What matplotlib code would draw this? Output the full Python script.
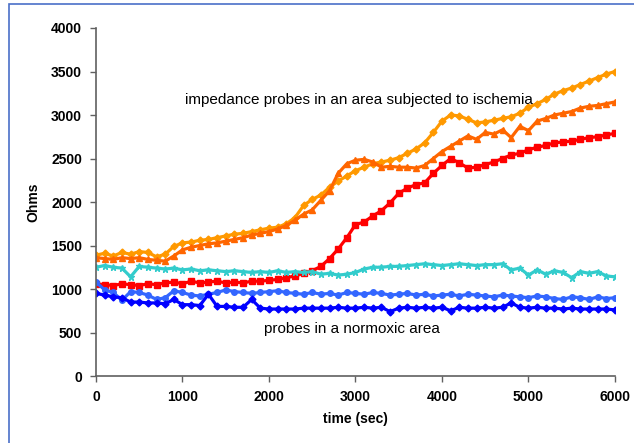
import matplotlib
matplotlib.use("Agg")
import matplotlib.pyplot as plt
from matplotlib.patches import Rectangle
import numpy as np

plt.rcParams['font.family'] = ['Liberation Sans', 'DejaVu Sans']

# time axis, one reading every 100 s
time_sec = list(range(0, 6001, 100))

# ischemic area probes
probe_orange = [1390, 1410, 1380, 1420, 1400, 1430, 1420, 1370, 1400, 1490,
                1530, 1540, 1560, 1570, 1590, 1610, 1630, 1640, 1660, 1680,
                1700, 1710, 1750, 1820, 1960, 2030, 2080, 2170, 2240, 2300,
                2360, 2400, 2440, 2460, 2480, 2510, 2560, 2610, 2680, 2800,
                2930, 3000, 2990, 2950, 2910, 2920, 2940, 2960, 2980, 3020,
                3090, 3130, 3180, 3240, 3280, 3310, 3350, 3390, 3430, 3470,
                3500]
probe_darkorange = [1360, 1350, 1340, 1360, 1350, 1360, 1340, 1330, 1320, 1380,
                    1450, 1480, 1500, 1520, 1530, 1550, 1570, 1590, 1620, 1640,
                    1660, 1690, 1730, 1790, 1860, 1910, 2020, 2130, 2330, 2440,
                    2480, 2490, 2460, 2400, 2410, 2400, 2400, 2390, 2420, 2500,
                    2580, 2640, 2700, 2760, 2720, 2800, 2780, 2830, 2740, 2870,
                    2820, 2930, 2960, 3000, 3020, 3040, 3080, 3100, 3110, 3130,
                    3150]
probe_red = [1060, 1050, 1040, 1060, 1050, 1040, 1060, 1050, 1070, 1080,
             1060, 1090, 1070, 1080, 1090, 1070, 1080, 1070, 1090, 1090,
             1100, 1110, 1130, 1150, 1180, 1210, 1260, 1350, 1460, 1590,
             1740, 1770, 1840, 1900, 1990, 2100, 2160, 2200, 2220, 2330,
             2420, 2500, 2450, 2390, 2400, 2430, 2460, 2500, 2540, 2560,
             2600, 2630, 2650, 2680, 2690, 2700, 2720, 2740, 2750, 2770,
             2790]

# normoxic area probes
probe_cyan = [1250, 1270, 1250, 1240, 1140, 1260, 1250, 1240, 1230, 1240,
              1220, 1230, 1210, 1220, 1210, 1200, 1210, 1200, 1190, 1200,
              1190, 1210, 1190, 1200, 1190, 1200, 1170, 1180, 1160, 1170,
              1190, 1230, 1250, 1250, 1260, 1260, 1270, 1280, 1290, 1280,
              1270, 1280, 1290, 1280, 1270, 1280, 1280, 1290, 1220, 1240,
              1160, 1220, 1170, 1210, 1190, 1130, 1200, 1180, 1200, 1150,
              1140]
probe_blue = [1080, 990, 960, 870, 970, 960, 930, 880, 900, 980,
              960, 930, 920, 940, 960, 990, 970, 960, 950, 960,
              970, 980, 960, 950, 940, 960, 940, 950, 930, 960,
              950, 940, 960, 950, 930, 940, 950, 930, 940, 920,
              930, 940, 920, 940, 930, 920, 910, 930, 920, 910,
              900, 920, 910, 890, 880, 910, 900, 880, 910, 890,
              900]
probe_darkblue = [950, 930, 910, 900, 850, 850, 840, 840, 830, 880,
                  820, 820, 810, 940, 800, 800, 790, 790, 880, 780,
                  770, 770, 770, 770, 780, 780, 780, 780, 790, 780,
                  780, 790, 780, 790, 740, 780, 790, 780, 790, 780,
                  790, 750, 790, 780, 780, 790, 780, 790, 840, 790,
                  780, 790, 780, 780, 770, 780, 770, 770, 770, 770,
                  760]

series = [
    (probe_orange, '#FF9900', 'D', 3.5),
    (probe_darkorange, '#FF6600', '^', 4),
    (probe_red, '#FF0000', 's', 4.5),
    (probe_cyan, '#33CCCC', '*', 5),
    (probe_blue, '#3366FF', 'o', 4),
    (probe_darkblue, '#0000FF', 'D', 3.5),
]

fig = plt.figure(figsize=(6.34, 4.43), dpi=100)
ax = fig.add_axes([0.1514, 0.1512, 0.8186, 0.7856])

for vals, col, mk, ms in series:
    ax.plot(time_sec, vals, color=col, lw=2.3, marker=mk, ms=ms,
            markeredgecolor=col, markerfacecolor=col)

ax.set_xlim(0, 6000)
ax.set_ylim(0, 4000)
ax.set_xticks(np.arange(0, 6001, 1000))
ax.set_yticks(np.arange(0, 4001, 500))
for s in ['top', 'right']:
    ax.spines[s].set_visible(False)
for s in ['left', 'bottom']:
    ax.spines[s].set_color('#606060')
    ax.spines[s].set_linewidth(1.2)
ax.tick_params(direction='out', length=4, width=1, color='#606060',
               labelsize=10, pad=6)
for lbl in ax.get_xticklabels() + ax.get_yticklabels():
    lbl.set_fontweight('bold')

ax.set_xlabel('time (sec)', fontsize=10, fontweight='bold', labelpad=6)
ax.set_ylabel('Ohms', fontsize=10, fontweight='bold', labelpad=8)

ax.text(1030, 3168, 'impedance probes in an area subjected to ischemia',
        fontsize=11, va='center', ha='left')
ax.text(1940, 543, 'probes in a normoxic area',
        fontsize=11, va='center', ha='left')

# blue outer frame
fig.patches.append(Rectangle((9 / 634, -0.1), 1.2, 1.1 - 4 / 443,
                             transform=fig.transFigure, fill=False,
                             edgecolor='#4A6FC8', lw=1.2))

fig.savefig('out.png', dpi=100)
